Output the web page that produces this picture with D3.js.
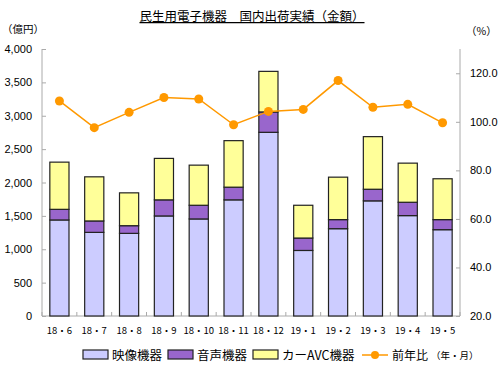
<!DOCTYPE html>
<html>
<head>
<meta charset="utf-8">
<script src="https://cdn.jsdelivr.net/npm/d3@7"></script>
<style>
  body { margin: 0; background: #fff; }
  svg { display: block; font-family: "Noto Sans CJK JP", "DejaVu Sans", sans-serif; }
</style>
</head>
<body>
<svg width="503" height="371"></svg>
<script>
const months = ['18・6', '18・7', '18・8', '18・9', '18・10', '18・11', '18・12', '19・1', '19・2', '19・3', '19・4', '19・5'];
const video = [1439, 1253, 1238, 1499, 1454, 1740, 2752, 982, 1308, 1725, 1504, 1293];
const audio = [159, 171, 115, 241, 205, 190, 305, 186, 136, 174, 200, 151];
const carAvc = [707, 661, 492, 621, 601, 697, 608, 491, 636, 788, 586, 612];
const yoy = [108.6, 97.6, 103.9, 110.0, 109.4, 98.8, 104.3, 105.1, 117.0, 106.0, 107.2, 99.6];
const leftTicks = [0, 500, 1000, 1500, 2000, 2500, 3000, 3500, 4000];
const rightTicks = [20, 40, 60, 80, 100, 120];

const keys = ['video', 'audio', 'carAvc'];
const names = {video: '映像機器', audio: '音声機器', carAvc: 'カーAVC機器'};
const colors = {video: '#ccccff', audio: '#9966cc', carAvc: '#ffff99'};

const rows = months.map((m, i) => ({month: m, video: video[i], audio: audio[i], carAvc: carAvc[i]}));

const svg = d3.select('svg');
const plotL = 42, plotR = 460, plotT = 49, plotB = 316;

const x = d3.scaleBand().domain(months).range([plotL, plotR]).paddingInner(0.45).paddingOuter(0.225);
const y = d3.scaleLinear().domain([0, 4000]).range([plotB, plotT]);
const y2 = d3.scaleLinear().domain([20, 130]).range([plotB, plotT]);

// title
svg.append('text')
  .attr('x', 252).attr('y', 21)
  .attr('text-anchor', 'middle')
  .attr('font-size', 12.5)
  .attr('text-decoration', 'underline')
  .text('民生用電子機器　国内出荷実績（金額）');

svg.append('text').attr('x', 2).attr('y', 33).attr('font-size', 10.5).text('（億円）');
svg.append('text').attr('x', 466).attr('y', 35).attr('font-size', 10.5).text('（%）');

// axes
const gLeft = svg.append('g')
  .attr('transform', `translate(${plotL},0)`)
  .call(d3.axisRight(y).tickValues(leftTicks).tickSize(4).tickFormat(''));
const gRight = svg.append('g')
  .attr('transform', `translate(${plotR},0)`)
  .call(d3.axisLeft(y2).tickValues(rightTicks).tickSize(4).tickFormat(''));
[gLeft, gRight].forEach(g => {
  g.select('.domain').attr('stroke', '#aaa').attr('d', `M0,${plotB}V${plotT}`);
  g.selectAll('.tick line').attr('stroke', '#aaa');
});

svg.append('g').selectAll('text')
  .data(leftTicks).join('text')
  .attr('x', 32).attr('y', d => y(d) + 4)
  .attr('text-anchor', 'end')
  .attr('font-size', 11)
  .attr('font-family', 'Liberation Sans, Arial, sans-serif')
  .text(d => d3.format(',')(d));

svg.append('g').selectAll('text')
  .data(rightTicks).join('text')
  .attr('x', 470).attr('y', d => y2(d) + 4)
  .attr('font-size', 11)
  .attr('font-family', 'Liberation Sans, Arial, sans-serif')
  .text(d => d.toFixed(1));

// x baseline + ticks between categories
svg.append('line')
  .attr('x1', plotL).attr('x2', plotR).attr('y1', plotB).attr('y2', plotB)
  .attr('stroke', '#aaa');
const step = x.step();
svg.append('g').selectAll('line')
  .data(d3.range(months.length + 1)).join('line')
  .attr('x1', i => plotL + i * step).attr('x2', i => plotL + i * step)
  .attr('y1', plotB).attr('y2', plotB - 4)
  .attr('stroke', '#aaa');

svg.append('g').selectAll('text')
  .data(months).join('text')
  .attr('x', d => x(d) + x.bandwidth() / 2)
  .attr('y', 334)
  .attr('text-anchor', 'middle')
  .attr('font-size', 9.5)
  .text(d => d);

// stacked bars
const stack = d3.stack().keys(keys)(rows);
svg.append('g').selectAll('g')
  .data(stack).join('g')
  .attr('fill', d => colors[d.key])
  .selectAll('rect')
  .data(d => d).join('rect')
  .attr('x', d => x(d.data.month))
  .attr('y', d => y(d[1]))
  .attr('width', x.bandwidth())
  .attr('height', d => y(d[0]) - y(d[1]))
  .attr('stroke', '#222')
  .attr('stroke-width', 1.2);

// YoY line
const line = d3.line()
  .x((d, i) => x(months[i]) + x.bandwidth() / 2)
  .y(d => y2(d));
svg.append('path')
  .datum(yoy)
  .attr('fill', 'none')
  .attr('stroke', '#ff9900')
  .attr('stroke-width', 1.5)
  .attr('d', line);
svg.append('g').selectAll('circle')
  .data(yoy).join('circle')
  .attr('cx', (d, i) => x(months[i]) + x.bandwidth() / 2)
  .attr('cy', d => y2(d))
  .attr('r', 4.5)
  .attr('fill', '#ff9900');

// legend
const ly = 355;
const legend = svg.append('g');
const items = [
  {key: 'video', x: 83},
  {key: 'audio', x: 168},
  {key: 'carAvc', x: 253}
];
items.forEach(it => {
  legend.append('rect')
    .attr('x', it.x).attr('y', ly - 5)
    .attr('width', 25).attr('height', 9)
    .attr('fill', colors[it.key])
    .attr('stroke', '#222').attr('stroke-width', 1.2);
  legend.append('text')
    .attr('x', it.x + 29).attr('y', ly + 5)
    .attr('font-size', 12.5)
    .text(names[it.key]);
});
legend.append('line')
  .attr('x1', 362).attr('x2', 388).attr('y1', ly).attr('y2', ly)
  .attr('stroke', '#ff9900').attr('stroke-width', 1.5);
legend.append('circle')
  .attr('cx', 375).attr('cy', ly).attr('r', 4)
  .attr('fill', '#ff9900');
legend.append('text')
  .attr('x', 392).attr('y', ly + 5)
  .attr('font-size', 12)
  .text('前年比');
legend.append('text')
  .attr('x', 431).attr('y', ly + 4)
  .attr('font-size', 9.5)
  .text('（年・月）');
</script>
</body>
</html>
